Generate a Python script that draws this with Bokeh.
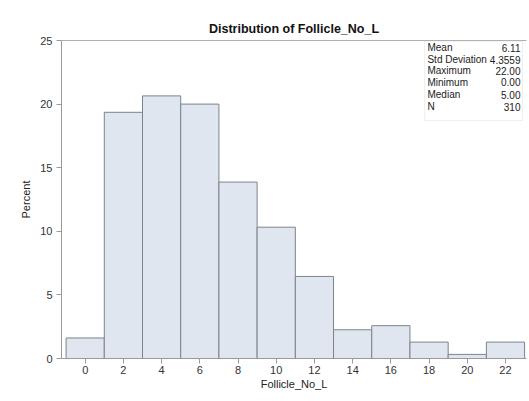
from bokeh.plotting import figure
from bokeh.models import ColumnDataSource, FixedTicker, Label, BoxAnnotation, Range1d, LinearAxis
from bokeh.embed import file_html
from bokeh.resources import INLINE

# Data
bin_centers = [0, 2, 4, 6, 8, 10, 12, 14, 16, 18, 20, 22]
bin_counts = [5, 60, 64, 62, 43, 32, 20, 7, 8, 4, 1, 4]
bin_width = 2
n_total = 310
percents = [c / n_total * 100 for c in bin_counts]
x_ticks = [0, 2, 4, 6, 8, 10, 12, 14, 16, 18, 20, 22]
y_ticks = [0, 5, 10, 15, 20, 25]
stat_names = ["Mean", "Std Deviation", "Maximum", "Minimum", "Median", "N"]
stat_values = ["6.11", "4.3559", "22.00", "0.00", "5.00", "310"]

FONT = "Liberation Sans"
X0, X1 = -1.24, 23.1
Y0, Y1 = 0, 25

p = figure(width=528, height=392, output_backend="svg", toolbar_location=None,
           x_range=Range1d(X0, X1), y_range=Range1d(Y0, Y1),
           min_border_left=61, min_border_right=2, min_border_top=40, min_border_bottom=30,
           title="Distribution of Follicle_No_L")

p.title.align = "center"
p.title.text_font = FONT
p.title.text_font_size = "12.5px"
p.title.text_font_style = "bold"
p.title.text_color = "#111111"
p.title.standoff = 10

src = ColumnDataSource(dict(x=bin_centers, top=percents))
p.vbar(x="x", top="top", bottom=0, width=bin_width, source=src,
       fill_color="#e0e6ef", line_color="#7c838c", line_width=1)

p.xgrid.visible = False
p.ygrid.visible = False
p.outline_line_color = None

xax = p.below[0]
yax = p.left[0]
for ax in (xax, yax):
    ax.axis_line_color = "#9a9a9a"
    ax.major_tick_line_color = "#9a9a9a"
    ax.major_tick_out = 5
    ax.major_tick_in = 0
    ax.minor_tick_line_color = None
    ax.major_label_text_font = FONT
    ax.major_label_text_font_size = "11px"
    ax.major_label_text_color = "#333333"
    ax.axis_label_text_font = FONT
    ax.axis_label_text_font_size = "11px"
    ax.axis_label_text_font_style = "normal"
    ax.axis_label_text_color = "#222222"

xax.ticker = FixedTicker(ticks=x_ticks)
yax.ticker = FixedTicker(ticks=y_ticks)
xax.axis_label = "Follicle_No_L"
yax.axis_label = "Percent"
xax.major_label_standoff = 2
yax.major_label_standoff = 4
xax.axis_label_standoff = 1
yax.axis_label_standoff = 5

# top border line of the plot wall (no ticks, no labels)
top_axis = LinearAxis(ticker=FixedTicker(ticks=[]), axis_line_color="#b0b0b0",
                      major_tick_line_color=None, minor_tick_line_color=None,
                      major_label_text_font_size="0px", major_label_standoff=0,
                      major_tick_out=0, major_tick_in=0)
p.add_layout(top_axis, "above")

# inset statistics table, placed as a fraction of the frame
def fx(f):
    return X0 + f * (X1 - X0)
def fy(f):
    return Y0 + f * (Y1 - Y0)

p.add_layout(BoxAnnotation(left=fx(0.781), right=fx(0.991), top=fy(0.998), bottom=fy(0.748),
                           fill_color="white", fill_alpha=1, line_color="#c8c8c8", line_width=1))
row_f = [0.977, 0.940, 0.905, 0.868, 0.829, 0.792]
for name, val, rf in zip(stat_names, stat_values, row_f):
    p.add_layout(Label(x=fx(0.787), y=fy(rf), text=name, text_font=FONT, text_font_size="10px",
                       text_color="#222222", text_baseline="middle", text_align="left"))
    p.add_layout(Label(x=fx(0.987), y=fy(rf), text=val, text_font=FONT, text_font_size="10px",
                       text_color="#222222", text_baseline="middle", text_align="right"))

open("out.html", "w").write(file_html(p, INLINE))
